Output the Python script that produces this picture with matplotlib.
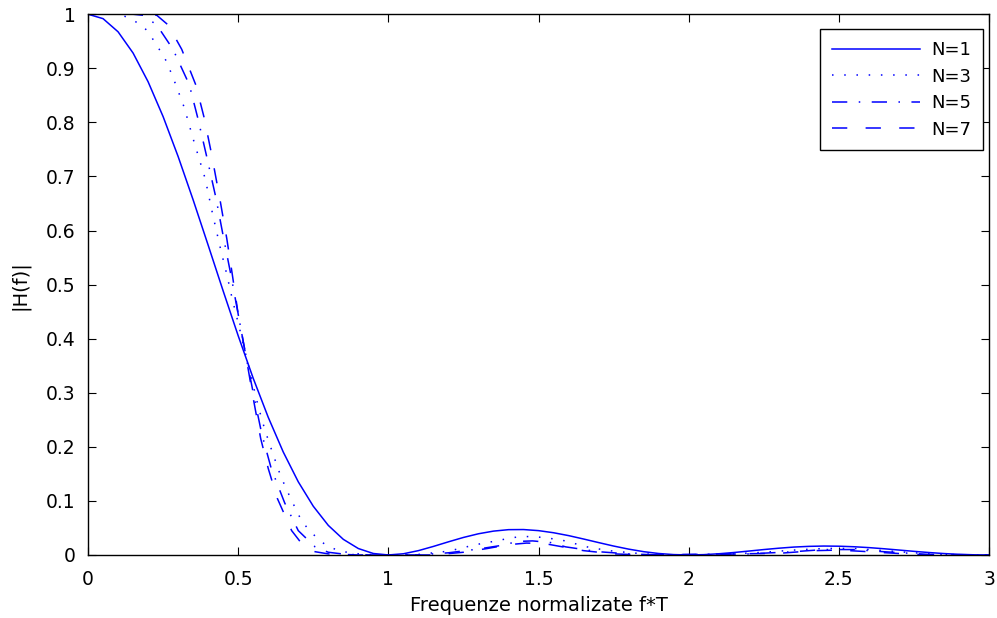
import matplotlib
matplotlib.use("Agg")
import matplotlib.pyplot as plt

plt.rcParams['font.family'] = ['DejaVu Sans']

# N=1 curve, sampled every 0.05 from 0 to 3
f_n1 = [i * 0.05 for i in range(61)]
h_n1 = [1.0, 0.9918, 0.9675, 0.9282, 0.8751, 0.8106, 0.7368, 0.6566, 0.5728, 0.4881,
        0.4053, 0.3267, 0.2546, 0.1904, 0.1353, 0.0901, 0.0547, 0.0289, 0.0119, 0.0027,
        0.0, 0.0022, 0.0080, 0.0158, 0.0243, 0.0324, 0.0392, 0.0441, 0.0468, 0.0470,
        0.0450, 0.0411, 0.0358, 0.0295, 0.0229, 0.0165, 0.0108, 0.0061, 0.0027, 0.0007,
        0.0, 0.0006, 0.0022, 0.0045, 0.0072, 0.0100, 0.0125, 0.0146, 0.0159, 0.0165,
        0.0162, 0.0152, 0.0136, 0.0115, 0.0091, 0.0067, 0.0045, 0.0026, 0.0012, 0.0003,
        0.0]

# N=3
f_n3 = [0, 0.10, 0.134, 0.168, 0.199, 0.220, 0.243, 0.262, 0.292, 0.320, 0.354, 0.390,
        0.415, 0.442, 0.462, 0.480, 0.500, 0.519, 0.545, 0.567, 0.589, 0.615, 0.642, 0.675,
        0.711, 0.736, 0.765, 0.795, 0.830, 0.87, 0.92, 1.0,
        1.05, 1.10, 1.20, 1.283, 1.327, 1.363, 1.40, 1.442, 1.483, 1.519, 1.56, 1.599,
        1.638, 1.677, 1.75, 1.85, 1.95, 2.0,
        2.15, 2.25, 2.35, 2.45, 2.55, 2.65, 2.75, 2.85, 2.95, 3.0]
h_n3 = [1, 1, 0.994, 0.983, 0.969, 0.950, 0.930, 0.912, 0.870, 0.828, 0.762, 0.696,
        0.630, 0.564, 0.519, 0.474, 0.429, 0.385, 0.325, 0.274, 0.231, 0.188, 0.145, 0.104,
        0.063, 0.046, 0.030, 0.017, 0.009, 0.004, 0.001, 0,
        0, 0.001, 0.007, 0.018, 0.023, 0.026, 0.031, 0.034, 0.034, 0.032, 0.029, 0.025,
        0.018, 0.013, 0.007, 0.002, 0, 0,
        0.002, 0.005, 0.009, 0.012, 0.012, 0.008, 0.004, 0.001, 0, 0]

# N=5
f_n5 = [0, 0.15, 0.184, 0.229, 0.283, 0.337, 0.365, 0.395, 0.426, 0.45, 0.475, 0.50,
        0.525, 0.55, 0.578, 0.61, 0.655, 0.70, 0.756, 0.80, 0.86, 0.95, 1.0,
        1.10, 1.20, 1.30, 1.38, 1.43, 1.48, 1.54, 1.59, 1.70, 1.80, 1.90,
        2.20, 2.35, 2.45, 2.55, 2.65, 2.80, 3.0]
h_n5 = [1, 1, 0.998, 0.98, 0.935, 0.87, 0.809, 0.737, 0.66, 0.59, 0.52, 0.445,
        0.37, 0.30, 0.225, 0.16, 0.096, 0.045, 0.015, 0.005, 0.001, 0, 0,
        0, 0.004, 0.011, 0.018, 0.025, 0.026, 0.023, 0.015, 0.006, 0.002, 0,
        0.002, 0.006, 0.010, 0.010, 0.006, 0.001, 0]

# N=7
f_n7 = [0, 0.20, 0.229, 0.267, 0.312, 0.359, 0.386, 0.41, 0.44, 0.462, 0.48, 0.50,
        0.525, 0.55, 0.575, 0.60, 0.63, 0.678, 0.717, 0.756, 0.80, 0.90, 1.0,
        1.15, 1.25, 1.33, 1.40, 1.46, 1.52, 1.58, 1.65, 1.75, 1.85,
        2.30, 2.42, 2.50, 2.60, 2.72, 2.80, 3.0]
h_n7 = [1, 1, 0.998, 0.98, 0.935, 0.869, 0.81, 0.745, 0.655, 0.585, 0.52, 0.445,
        0.37, 0.29, 0.215, 0.16, 0.105, 0.045, 0.017, 0.006, 0.002, 0, 0,
        0, 0.005, 0.012, 0.019, 0.022, 0.021, 0.015, 0.008, 0.002, 0,
        0.003, 0.008, 0.009, 0.006, 0.002, 0, 0]

labels = ['N=1', 'N=3', 'N=5', 'N=7']

fig = plt.figure(figsize=(9.97, 6.18), dpi=100)
ax = fig.add_axes([0.0883, 0.102, 0.9037, 0.875])

blue = (0, 0, 1)
ax.plot(f_n1, h_n1, color=blue, lw=1.1, linestyle='-', label=labels[0])
ax.plot(f_n3, h_n3, color=blue, lw=1.1, linestyle=(0, (1, 7)), label=labels[1])
ax.plot(f_n5, h_n5, color=blue, lw=1.1, linestyle=(0, (10, 7.5, 1, 7.5)), label=labels[2])
ax.plot(f_n7, h_n7, color=blue, lw=1.1, linestyle=(0, (10, 12)), label=labels[3])

ax.set_xlim(0, 3)
ax.set_ylim(0, 1)
ax.set_xticks([0, 0.5, 1, 1.5, 2, 2.5, 3])
ax.set_xticklabels(['0', '0.5', '1', '1.5', '2', '2.5', '3'])
ax.set_yticks([0, 0.1, 0.2, 0.3, 0.4, 0.5, 0.6, 0.7, 0.8, 0.9, 1])
ax.set_yticklabels(['0', '0.1', '0.2', '0.3', '0.4', '0.5', '0.6', '0.7', '0.8', '0.9', '1'])
ax.tick_params(direction='in', length=6, width=0.8, top=True, right=True, labelsize=13.5)
ax.tick_params(axis='x', pad=11)
ax.tick_params(axis='y', pad=9)
for s in ax.spines.values():
    s.set_linewidth(1.0)

ax.set_xlabel('Frequenze normalizate f*T', fontsize=14, labelpad=5)
ax.set_ylabel('|H(f)|', fontsize=14, labelpad=12)

leg = ax.legend(loc='upper right', fontsize=13, fancybox=False, edgecolor='black',
                framealpha=1, handlelength=4.9, handletextpad=0.6, borderpad=0.65,
                labelspacing=0.47, borderaxespad=0,
                bbox_to_anchor=(0.9933, 0.972))
leg.get_frame().set_linewidth(1.0)

fig.savefig('out.png', dpi=100)
